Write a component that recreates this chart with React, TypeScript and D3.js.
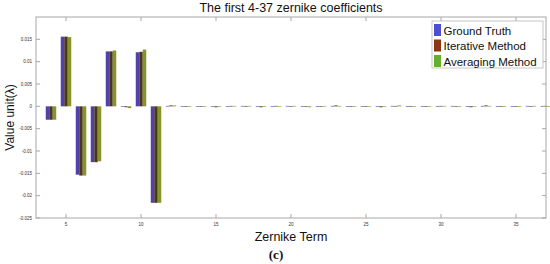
import React from 'react';
import * as d3 from 'd3';

const terms = d3.range(4, 38);
const groundTruth = [
  -0.003, 0.0156, -0.0153, -0.0125, 0.0123, 0.0, 0.0121, -0.0216,
  0.0001, 0.0, 0.0, -0.0001, 0.0, 0.0001, -0.0001, 0.0, 0.0001, 0.0, -0.0001, 0.0001, 0.0,
  -0.0001, 0.0, 0.0001, 0.0, -0.0001, 0.0, 0.0001, 0.0, 0.0001, -0.0001, 0.0, 0.0001, 0.0,
];
const iterative = [
  -0.003, 0.0156, -0.0155, -0.0125, 0.0123, -0.0002, 0.0122, -0.0216,
  0.0002, -0.0001, 0.0, -0.0002, 0.0001, 0.0, -0.0002, 0.0001, 0.0, -0.0001, 0.0, 0.0002, -0.0001,
  0.0, -0.0002, 0.0001, 0.0, -0.0001, 0.0001, 0.0, -0.0002, 0.0002, 0.0, -0.0001, 0.0, 0.0001,
];
const averaging = [
  -0.003, 0.0155, -0.0155, -0.0123, 0.0125, -0.0004, 0.0127, -0.0216,
  0.0002, 0.0, -0.0001, -0.0001, 0.0001, 0.0001, -0.0001, 0.0, 0.0001, -0.0002, 0.0001, 0.0001, 0.0,
  -0.0001, 0.0, 0.0002, -0.0001, 0.0, 0.0001, -0.0001, 0.0, 0.0001, -0.0001, 0.0, 0.0001, -0.0001,
];
const seriesNames = ['Ground Truth', 'Iterative Method', 'Averaging Method'];
const barColors = ['#5242a8', '#4a361c', '#86942a'];
const legendColors = ['#4e4ed2', '#8a3414', '#64b02e'];
const yTicks = [-0.025, -0.02, -0.015, -0.01, -0.005, 0, 0.005, 0.01, 0.015];
const xTicks = [5, 10, 15, 20, 25, 30, 35];

const W = 550;
const H = 264;
const m = { left: 36, right: 4, top: 17, bottom: 46 };

export default function App() {
  const x = d3.scaleLinear().domain([3, 37]).range([m.left, W - m.right]);
  const y = d3.scaleLinear().domain([-0.025, 0.02]).range([H - m.bottom, m.top]);
  const groupW = (x(1) - x(0)) * 0.7;
  const sub = d3.scaleBand().domain(['0', '1', '2']).range([-groupW / 2, groupW / 2]);
  const allSeries = [groundTruth, iterative, averaging];
  const y0 = y(0);
  const axisColor = '#a8a8a8';
  const fmt = (v: number) => (v === 0 ? '0' : String(+v.toFixed(3)));

  return (
    <svg width={W} height={H} style={{ position: 'absolute', left: 0, top: 0, fontFamily: 'Liberation Sans, Arial, sans-serif' }}>
      <rect width={W} height={H} fill="#fff" />
      <text x={291} y={12} textAnchor="middle" fontSize={12.5} fill="#111">
        The first 4-37 zernike coefficients
      </text>
      {/* bars */}
      {allSeries.map((vals, si) =>
        vals.map((v, i) => (
          <rect
            key={`${si}-${i}`}
            x={x(terms[i]) + (sub(String(si)) as number)}
            width={sub.bandwidth()}
            y={Math.min(y(v), y0)}
            height={Math.max(Math.abs(y(v) - y0), 0.6)}
            fill={barColors[si]}
          />
        ))
      )}
      {/* frame */}
      <rect x={m.left} y={m.top} width={W - m.left - m.right} height={H - m.top - m.bottom} fill="none" stroke={axisColor} strokeWidth={1} />
      {yTicks.map((t) => (
        <g key={t}>
          <line x1={m.left} x2={m.left + 4} y1={y(t)} y2={y(t)} stroke={axisColor} />
          <line x1={W - m.right} x2={W - m.right - 4} y1={y(t)} y2={y(t)} stroke={axisColor} />
          <text x={m.left - 4} y={y(t) + 1.5} textAnchor="end" fontSize={4.5} fill="#333">
            {fmt(t)}
          </text>
        </g>
      ))}
      {xTicks.map((t) => (
        <g key={t}>
          <line x1={x(t)} x2={x(t)} y1={H - m.bottom} y2={H - m.bottom - 4} stroke={axisColor} />
          <line x1={x(t)} x2={x(t)} y1={m.top} y2={m.top + 4} stroke={axisColor} />
          <text x={x(t)} y={H - m.bottom + 8} textAnchor="middle" fontSize={4.5} fill="#333">
            {t}
          </text>
        </g>
      ))}
      {/* legend */}
      <g transform="translate(432,21)">
        <rect width={111} height={47} fill="#fff" stroke="#b8b8b8" strokeWidth={0.8} />
        {seriesNames.map((name, i) => (
          <g key={name} transform={`translate(2,${3 + i * 15.5})`}>
            <rect width={7} height={12} fill={legendColors[i]} />
            <text x={9.5} y={10.5} fontSize={11.5} fill="#111">
              {name}
            </text>
          </g>
        ))}
      </g>
      <text x={291} y={241} textAnchor="middle" fontSize={12.5} fill="#111">
        Zernike Term
      </text>
      <text transform={`translate(14,${(m.top + H - m.bottom) / 2}) rotate(-90)`} textAnchor="middle" fontSize={12} fill="#111">
        Value unit(λ)
      </text>
      <text x={276} y={259} textAnchor="middle" fontSize={13} fontWeight="bold" fontFamily="Liberation Serif, serif" fill="#111">
        (c)
      </text>
    </svg>
  );
}
